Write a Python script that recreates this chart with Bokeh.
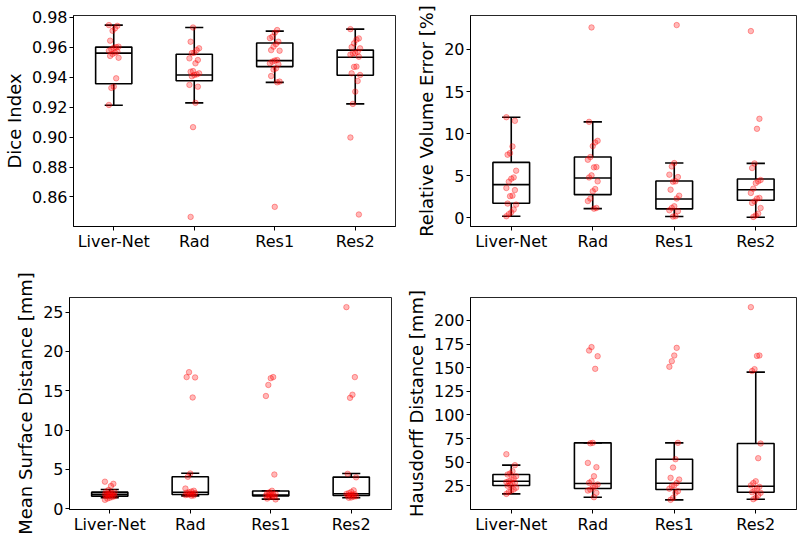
from bokeh.plotting import figure
from bokeh.layouts import column, row
from bokeh.models import Range1d, FixedTicker, PrintfTickFormatter
from bokeh.embed import file_html
from bokeh.resources import INLINE

categories = ["Liver-Net", "Rad", "Res1", "Res2"]

# ---- Dice Index ----
dice_livernet = [0.9747, 0.9742, 0.9725, 0.9709, 0.9643, 0.9603, 0.9600, 0.9596, 0.9585, 0.9576,
                 0.9570, 0.9563, 0.9554, 0.9541, 0.9529, 0.9392, 0.9336, 0.9328, 0.9214]
dice_rad = [0.9731, 0.9636, 0.9592, 0.9580, 0.9563, 0.9560, 0.9525, 0.9514, 0.9492, 0.9440,
            0.9436, 0.9425, 0.9418, 0.9414, 0.9405, 0.9348, 0.9336, 0.9228, 0.9066, 0.8467]
dice_res1 = [0.9714, 0.9696, 0.9669, 0.9660, 0.9636, 0.9620, 0.9603, 0.9580, 0.9576, 0.9514,
             0.9510, 0.9503, 0.9492, 0.9485, 0.9458, 0.9450, 0.9407, 0.9370, 0.9365, 0.8534]
dice_res2 = [0.9720, 0.9658, 0.9650, 0.9625, 0.9600, 0.9592, 0.9569, 0.9560, 0.9558, 0.9550,
             0.9536, 0.9470, 0.9468, 0.9425, 0.9414, 0.9374, 0.9303, 0.9221, 0.8997, 0.8483]
dice_q1 = [0.9356, 0.9376, 0.9470, 0.9412]
dice_med = [0.9560, 0.9414, 0.9510, 0.9532]
dice_q3 = [0.9600, 0.9552, 0.9627, 0.9580]
dice_lo = [0.9212, 0.9228, 0.9365, 0.9221]
dice_hi = [0.9747, 0.9731, 0.9707, 0.9720]
dice_ticks = [0.86, 0.88, 0.90, 0.92, 0.94, 0.96, 0.98]

# ---- Relative Volume Error [%] ----
rve_livernet = [11.95, 11.52, 8.48, 7.69, 7.50, 5.60, 4.80, 4.65, 4.30, 3.55,
                3.30, 2.64, 2.58, 1.70, 1.58, 0.99, 0.67, 0.45, 0.20]
rve_rad = [22.60, 11.40, 9.15, 8.95, 8.52, 7.22, 6.90, 6.04, 6.00, 5.05,
           4.80, 4.34, 3.43, 3.16, 2.29, 2.00, 1.18, 1.10]
rve_res1 = [22.88, 6.51, 6.11, 5.13, 4.85, 4.34, 4.30, 3.35, 2.64, 2.30,
            1.38, 1.18, 0.91, 0.80, 0.20, 0.16]
rve_res2 = [22.17, 11.76, 10.57, 6.47, 5.92, 4.50, 4.34, 4.14, 3.47, 2.96,
            2.37, 2.30, 1.98, 1.78, 1.18, 0.51, 0.30, 0.12]
rve_q1 = [1.74, 2.76, 1.07, 2.09]
rve_med = [3.95, 4.73, 2.25, 3.35]
rve_q3 = [6.59, 7.22, 4.38, 4.62]
rve_lo = [0.20, 1.10, 0.16, 0.08]
rve_hi = [11.95, 11.40, 6.51, 6.47]
rve_ticks = [0, 5, 10, 15, 20]

# ---- Mean Surface Distance [mm] ----
msd_livernet = [3.45, 3.18, 2.90, 2.40, 2.20, 2.10, 2.00, 1.95, 1.90, 1.85,
                1.80, 1.75, 1.70, 1.65, 1.60, 1.50, 1.40, 1.30, 1.14]
msd_rad = [17.37, 16.74, 16.70, 14.15, 4.49, 4.07, 2.58, 2.30, 2.20, 2.10,
           2.05, 2.00, 1.90, 1.85, 1.80, 1.75, 1.70, 1.65]
msd_res1 = [16.74, 16.60, 15.74, 14.34, 4.36, 2.30, 2.10, 2.00, 1.90, 1.85,
            1.80, 1.75, 1.70, 1.60, 1.55, 1.50, 1.30, 1.20]
msd_res2 = [25.63, 16.74, 14.50, 14.10, 4.45, 4.00, 2.35, 2.15, 2.00, 1.90,
            1.85, 1.80, 1.75, 1.70, 1.60, 1.55, 1.45, 1.40]
msd_q1 = [1.61, 1.82, 1.65, 1.70]
msd_med = [1.86, 2.10, 1.75, 1.91]
msd_q3 = [2.12, 4.07, 2.27, 4.03]
msd_lo = [1.40, 1.65, 1.23, 1.40]
msd_hi = [2.46, 4.53, 2.30, 4.49]
msd_ticks = [0, 5, 10, 15, 20, 25]

# ---- Hausdorff Distance [mm] ----
hd_livernet = [58.5, 46.9, 40.5, 38.0, 37.0, 35.2, 33.0, 31.7, 30.0, 29.0,
               28.2, 27.0, 26.0, 25.0, 23.0, 21.1, 20.0, 18.5, 16.5]
hd_rad = [171.8, 168.2, 162.2, 148.8, 70.5, 70.0, 49.3, 44.8, 35.2, 29.9,
          28.2, 26.5, 24.6, 23.0, 21.1, 20.0, 17.6, 13.0]
hd_res1 = [171.0, 162.9, 156.9, 151.0, 70.5, 53.2, 44.4, 33.5, 31.7, 28.0,
           25.5, 24.6, 22.0, 19.4, 17.6, 12.3, 10.2]
hd_res2 = [214.1, 162.9, 162.5, 148.5, 146.5, 69.8, 54.3, 29.9, 28.0, 25.5,
           24.0, 22.0, 20.0, 18.3, 17.6, 15.0, 12.5, 10.9]
hd_q1 = [25.4, 22.2, 21.1, 18.3]
hd_med = [29.9, 27.5, 27.8, 24.6]
hd_q3 = [37.0, 70.5, 53.2, 69.8]
hd_lo = [16.5, 13.0, 10.2, 10.9]
hd_hi = [46.9, 70.5, 70.5, 145.3]
hd_ticks = [25, 50, 75, 100, 125, 150, 175, 200]

FONT = "DejaVu Sans"


def make_panel(groups, q1, med, q3, lo, hi, ticks, ylabel, fmt,
               width, height, bl, br, bt, bb):
    allv = [v for g in groups for v in g]
    vmin, vmax = min(allv), max(allv)
    pad = 0.05 * (vmax - vmin)
    p = figure(width=width, height=height, output_backend="svg", toolbar_location=None,
               x_range=Range1d(0.5, 4.5), y_range=Range1d(vmin - pad, vmax + pad),
               min_border_left=bl, min_border_right=br, min_border_top=bt,
               min_border_bottom=bb)
    xs = list(range(1, len(categories) + 1))
    half = 0.225
    cap = half / 2
    lw = 1.6
    p.quad(left=[x - half for x in xs], right=[x + half for x in xs], bottom=q1, top=q3,
           fill_color=None, line_color="black", line_width=lw)
    p.segment(x0=[x - half for x in xs], x1=[x + half for x in xs], y0=med, y1=med,
              line_color="black", line_width=lw)
    p.segment(x0=xs, x1=xs, y0=q3, y1=hi, line_color="black", line_width=lw)
    p.segment(x0=xs, x1=xs, y0=q1, y1=lo, line_color="black", line_width=lw)
    p.segment(x0=[x - cap for x in xs], x1=[x + cap for x in xs], y0=hi, y1=hi,
              line_color="black", line_width=lw)
    p.segment(x0=[x - cap for x in xs], x1=[x + cap for x in xs], y0=lo, y1=lo,
              line_color="black", line_width=lw)
    for k, g in enumerate(groups):
        jx = [xs[k] + 0.06 * (((i * 7 + k * 3) % 9) - 4) / 4 for i in range(len(g))]
        p.scatter(jx, g, size=5.5, fill_color="red", fill_alpha=0.28,
                  line_color="red", line_alpha=0.35)

    p.xgrid.visible = False
    p.ygrid.visible = False
    p.outline_line_color = "black"
    p.outline_line_width = 1
    p.outline_line_alpha = 0.85
    p.background_fill_color = "white"
    p.border_fill_color = "white"

    p.xaxis.ticker = FixedTicker(ticks=xs)
    p.xaxis.major_label_overrides = {x: c for x, c in zip(xs, categories)}
    p.yaxis.ticker = FixedTicker(ticks=ticks)
    p.yaxis.formatter = PrintfTickFormatter(format=fmt)
    for ax in (p.xaxis[0], p.yaxis[0]):
        ax.axis_line_color = "black"
        ax.major_tick_line_color = "black"
        ax.minor_tick_line_color = None
        ax.major_tick_out = 4
        ax.major_tick_in = 0
        ax.major_label_text_font = FONT
        ax.major_label_text_font_size = "16px"
        ax.major_label_text_color = "black"
        ax.major_label_standoff = 2
    p.xaxis.major_label_standoff = 1
    p.yaxis.axis_label = ylabel
    p.yaxis.axis_label_text_font = FONT
    p.yaxis.axis_label_text_font_size = "18px"
    p.yaxis.axis_label_text_font_style = "normal"
    p.yaxis.axis_label_text_color = "black"
    p.yaxis.axis_label_standoff = 4
    return p


# the page template has no body margin: the layout spans 800 x 538
p1 = make_panel([dice_livernet, dice_rad, dice_res1, dice_res2],
                dice_q1, dice_med, dice_q3, dice_lo, dice_hi, dice_ticks,
                "Dice Index", "%.2f", 400, 262, 69, 5, 15, 36)
p2 = make_panel([rve_livernet, rve_rad, rve_res1, rve_res2],
                rve_q1, rve_med, rve_q3, rve_lo, rve_hi, rve_ticks,
                "Relative Volume Error [%]", "%d", 400, 262, 70, 4, 14, 36)
p3 = make_panel([msd_livernet, msd_rad, msd_res1, msd_res2],
                msd_q1, msd_med, msd_q3, msd_lo, msd_hi, msd_ticks,
                "Mean Surface Distance [mm]", "%d", 400, 276, 69, 9, 35, 29)
p4 = make_panel([hd_livernet, hd_rad, hd_res1, hd_res2],
                hd_q1, hd_med, hd_q3, hd_lo, hd_hi, hd_ticks,
                "Hausdorff Distance [mm]", "%d", 400, 276, 70, 4, 35, 29)

layout = column(row(p1, p2), row(p3, p4))
open("out.html", "w").write(file_html(layout, INLINE))
